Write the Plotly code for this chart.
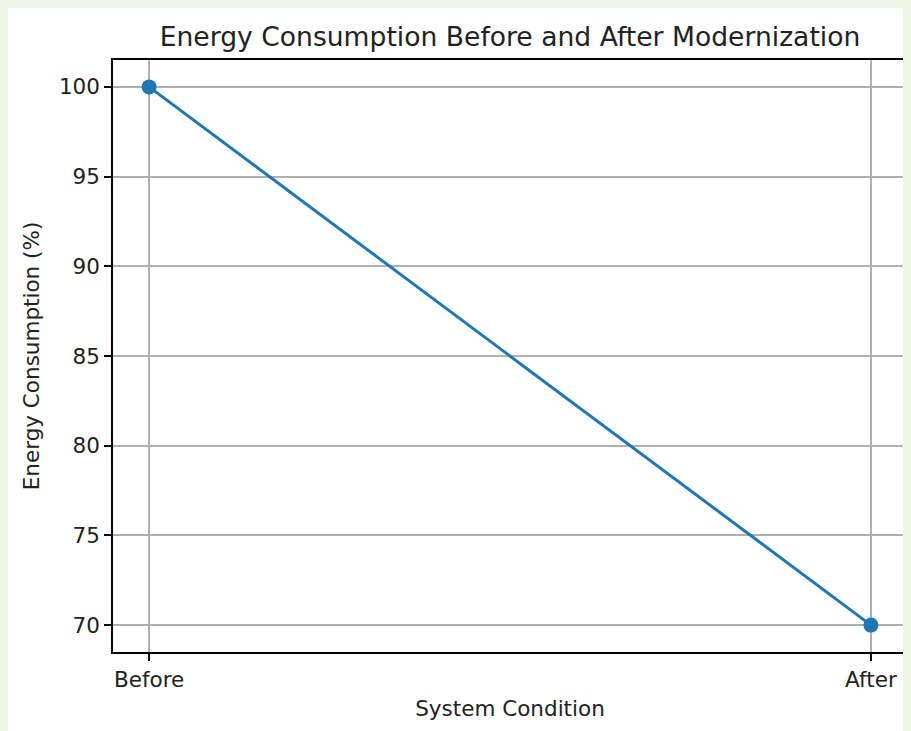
import plotly.graph_objects as go

conditions = ["Before", "After"]
energy = [100, 70]
y_ticks = [70, 75, 80, 85, 90, 95, 100]

fig = go.Figure()
fig.add_trace(go.Scatter(
    x=list(range(len(conditions))), y=energy, mode="lines+markers",
    line=dict(color="#1f77b4", width=3),
    marker=dict(color="#1f77b4", size=15),
    showlegend=False,
))

font = "DejaVu Sans"
txt = "#222"
axis_common = dict(
    showline=True, linecolor="black", linewidth=1.5, mirror=True,
    ticks="outside", ticklen=7, tickcolor="black", tickwidth=1.5,
    showgrid=True, gridcolor="#b0b0b0", gridwidth=1.5,
    zeroline=False, tickfont=dict(family=font, size=21.5, color=txt),
)

W, H = 903, 723
fig.update_layout(
    width=W, height=H,
    margin=dict(l=105, r=2, t=52, b=79),
    paper_bgcolor="white", plot_bgcolor="white",
    title=dict(text="Energy Consumption Before and After Modernization",
               x=0.5, xanchor="center", xref="paper", y=1 - 29/H, yanchor="middle",
               font=dict(family=font, size=26.6, color=txt)),
    xaxis=dict(range=[-0.05, 1.05], tickvals=[0, 1], ticktext=conditions,
               title=dict(text="System Condition", font=dict(family=font, size=21.5, color=txt), standoff=10),
               **axis_common),
    yaxis=dict(range=[68.5, 101.5], tickvals=y_ticks,
               title=dict(text="Energy Consumption (%)", font=dict(family=font, size=21.5, color=txt), standoff=13),
               **axis_common),
)

fig.write_html("out.html", post_script="document.body.style.background='#eef5e6';")
